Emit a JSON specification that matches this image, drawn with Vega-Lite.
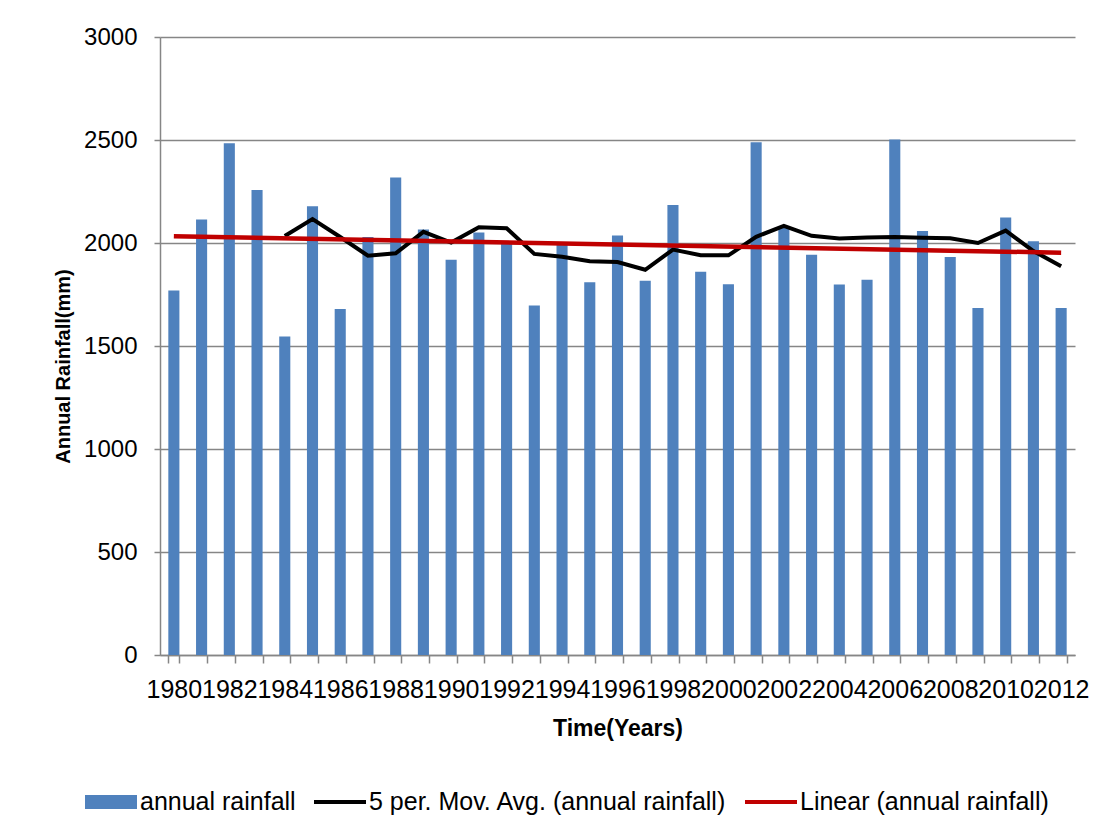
{
  "$schema": "https://vega.github.io/schema/vega-lite/v6.json",
  "autosize": "none",
  "width": 915,
  "height": 618,
  "padding": {"left": 160, "top": 37, "right": 35, "bottom": 179},
  "background": "white",
  "config": {
    "view": {"stroke": null},
    "font": "Liberation Sans",
    "axis": {
      "labelFont": "Liberation Sans",
      "labelColor": "black",
      "titleFont": "Liberation Sans",
      "titleFontWeight": "bold",
      "titleColor": "black",
      "domainColor": "#868686",
      "domainWidth": 1.5,
      "tickColor": "#868686",
      "tickWidth": 1.5,
      "gridColor": "#868686",
      "gridWidth": 1.5
    }
  },
  "data": {
    "values": [
      {"year": "1980", "rainfall": 1770, "ma": null, "trend": 2033},
      {"year": "1981", "rainfall": 2114, "ma": null, "trend": null},
      {"year": "1982", "rainfall": 2484, "ma": null, "trend": null},
      {"year": "1983", "rainfall": 2257, "ma": null, "trend": null},
      {"year": "1984", "rainfall": 1546, "ma": 2034, "trend": null},
      {"year": "1985", "rainfall": 2179, "ma": 2116, "trend": null},
      {"year": "1986", "rainfall": 1680, "ma": 2029, "trend": null},
      {"year": "1987", "rainfall": 2029, "ma": 1938, "trend": null},
      {"year": "1988", "rainfall": 2318, "ma": 1950, "trend": null},
      {"year": "1989", "rainfall": 2065, "ma": 2054, "trend": null},
      {"year": "1990", "rainfall": 1919, "ma": 2002, "trend": null},
      {"year": "1991", "rainfall": 2051, "ma": 2076, "trend": null},
      {"year": "1992", "rainfall": 2005, "ma": 2072, "trend": null},
      {"year": "1993", "rainfall": 1697, "ma": 1947, "trend": null},
      {"year": "1994", "rainfall": 1992, "ma": 1933, "trend": null},
      {"year": "1995", "rainfall": 1809, "ma": 1911, "trend": null},
      {"year": "1996", "rainfall": 2036, "ma": 1908, "trend": null},
      {"year": "1997", "rainfall": 1817, "ma": 1870, "trend": null},
      {"year": "1998", "rainfall": 2184, "ma": 1968, "trend": null},
      {"year": "1999", "rainfall": 1861, "ma": 1941, "trend": null},
      {"year": "2000", "rainfall": 1800, "ma": 1940, "trend": null},
      {"year": "2001", "rainfall": 2489, "ma": 2030, "trend": null},
      {"year": "2002", "rainfall": 2080, "ma": 2083, "trend": null},
      {"year": "2003", "rainfall": 1943, "ma": 2035, "trend": null},
      {"year": "2004", "rainfall": 1799, "ma": 2022, "trend": null},
      {"year": "2005", "rainfall": 1822, "ma": 2027, "trend": null},
      {"year": "2006", "rainfall": 2503, "ma": 2029, "trend": null},
      {"year": "2007", "rainfall": 2058, "ma": 2025, "trend": null},
      {"year": "2008", "rainfall": 1932, "ma": 2023, "trend": null},
      {"year": "2009", "rainfall": 1685, "ma": 2000, "trend": null},
      {"year": "2010", "rainfall": 2124, "ma": 2060, "trend": null},
      {"year": "2011", "rainfall": 2008, "ma": 1961, "trend": null},
      {"year": "2012", "rainfall": 1685, "ma": 1887, "trend": 1953}
    ]
  },
  "encoding": {
    "x": {
      "field": "year",
      "type": "ordinal",
      "scale": {"paddingInner": 0.6, "paddingOuter": 0.3},
      "axis": {
        "title": "Time(Years)",
        "titleFontSize": 23,
        "titlePadding": 15,
        "labelFontSize": 25,
        "labelAngle": 0,
        "labelOverlap": false,
        "labelPadding": 14,
        "labelLimit": 0,
        "tickBand": "extent",
        "tickSize": 8,
        "grid": false,
        "labelExpr": "parseInt(datum.label) % 2 == 0 ? datum.label : ''"
      }
    }
  },
  "layer": [
    {
      "mark": {"type": "bar"},
      "encoding": {
        "y": {
          "field": "rainfall",
          "type": "quantitative",
          "scale": {"domain": [0, 3000], "nice": false},
          "axis": {
            "title": "Annual Rainfall(mm)",
            "titleFontSize": 20,
            "titlePadding": 10,
            "titleY": 329,
            "labelFontSize": 24,
            "format": "d",
            "values": [0, 500, 1000, 1500, 2000, 2500, 3000],
            "tickSize": 6,
            "labelPadding": 17,
            "grid": true
          }
        },
        "color": {
          "datum": "annual rainfall",
          "type": "nominal",
          "scale": {
            "domain": ["annual rainfall", "5 per. Mov. Avg. (annual rainfall)", "Linear (annual rainfall)"],
            "range": ["#4F81BD", "#000000", "#C00000"]
          },
          "legend": {
            "title": null,
            "orient": "none",
            "direction": "horizontal",
            "legendX": -75,
            "legendY": 739,
            "labelFont": "Liberation Sans",
            "labelFontSize": 25,
            "labelColor": "black",
            "labelLimit": 0,
            "symbolSize": 2704,
            "columnPadding": 18,
            "labelOffset": 3,
            "symbolOffset": 0,
            "encode": {
              "symbols": {
                "update": {
                  "shape": {"signal": "datum.value === 'annual rainfall' ? 'M-1,-0.27H1V0.27H-1Z' : 'M-1,-0.075H1V0.075H-1Z'"},
                  "fill": {"signal": "datum.value === 'annual rainfall' ? '#4F81BD' : (datum.value === 'Linear (annual rainfall)' ? '#C00000' : '#000000')"},
                  "stroke": {"value": "transparent"},
                  "strokeWidth": {"value": 0},
                  "opacity": {"value": 1},
                  "fillOpacity": {"value": 1}
                }
              }
            }
          }
        }
      }
    },
    {
      "mark": {"type": "line", "strokeWidth": 4, "strokeJoin": "miter", "invalid": "filter"},
      "encoding": {
        "y": {"field": "ma", "type": "quantitative"},
        "color": {"datum": "5 per. Mov. Avg. (annual rainfall)", "type": "nominal"}
      }
    },
    {
      "mark": {"type": "line", "strokeWidth": 4.5, "invalid": "filter"},
      "encoding": {
        "y": {"field": "trend", "type": "quantitative"},
        "color": {"datum": "Linear (annual rainfall)", "type": "nominal"}
      }
    }
  ]
}
